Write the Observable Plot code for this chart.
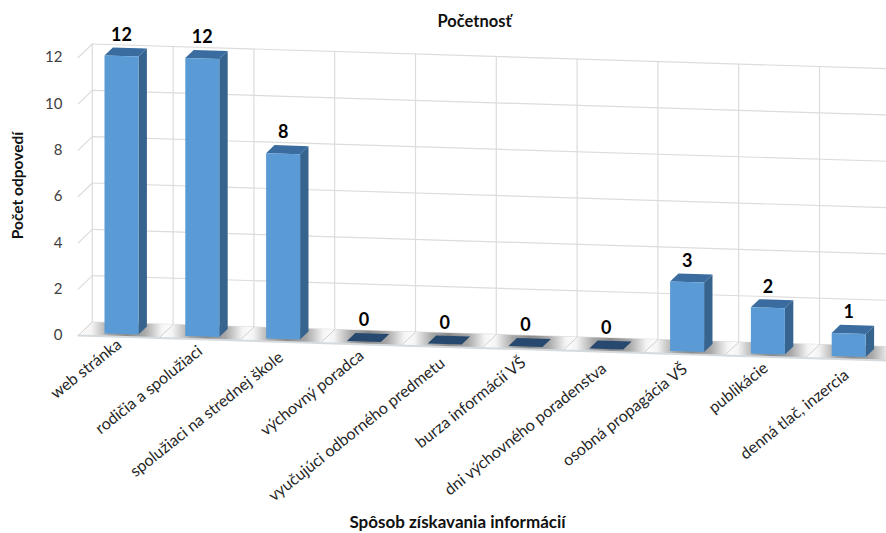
<!DOCTYPE html>
<html>
<head>
<meta charset="utf-8">
<script src="https://cdn.jsdelivr.net/npm/d3@7"></script>
<script src="https://cdn.jsdelivr.net/npm/@observablehq/plot@0.6"></script>
<style>html,body{margin:0;padding:0;background:#fff}svg{display:block}</style>
</head>
<body>
<div id="chart"></div>
<script>
const categories = ["web stránka","rodičia a spolužiaci","spolužiaci na strednej škole","výchovný poradca","vyučujúci odborného predmetu","burza informácií VŠ","dni výchovného poradenstva","osobná propagácia VŠ","publikácie","denná tlač, inzercia"];
const counts = [12,12,8,0,0,0,0,3,2,1];
const yTicks = [0,2,4,6,8,10,12];
const chartTitle = "Početnosť";
const xTitle = "Spôsob získavania informácií";
const yTitle = "Počet odpovedí";

// Perspective of the 3-D chart, in data units
const unitX = 80.8, unitY = 23.17;
const tilt = 0.031 * unitX / unitY;
const depthX = 14 / unitX, depthY = 13.5 / unitY;
const halfBar = 17 / unitX;
const pt = (u, v, d) => ({x: u + d * depthX, y: v + d * depthY - tilt * (u + 0.5)});
const rows = (polys) => polys.flatMap((p, id) => p.map((q) => ({...q, id})));
const poly = (polys, o) => Plot.line(rows(polys), {x: "x", y: "y", z: "id", ...o});
const shape = (polys, fill) => poly(polys, {fill, stroke: "none"});

const idx = d3.range(categories.length);
const nonZero = idx.filter((i) => counts[i] > 0);
const zero = idx.filter((i) => counts[i] === 0);
const nearD = 0.2, farD = 0.8;
const edges = d3.range(0, categories.length + 1).map((i) => i - 0.5);

const gridStroke = {stroke: "#dcdcdc", strokeWidth: 1.2};
const topFace = (i) => [pt(i - halfBar, counts[i], nearD), pt(i + halfBar, counts[i], nearD), pt(i + halfBar, counts[i], farD), pt(i - halfBar, counts[i], farD)];

const chartFont = "Lato, 'Open Sans', sans-serif";
const plot = Plot.plot({
  width: 886, height: 533,
  marginLeft: 65, marginRight: 0, marginTop: 0, marginBottom: 0,
  x: {domain: [-0.6584, 9.5025], range: [65, 886], axis: null},
  y: {domain: [0, 12], range: [335, 57], axis: null},
  style: {fontFamily: chartFont, background: "#fff", color: "#404040"},
  marks: [
    () => d3.create("svg:defs").html(`<linearGradient id="floorShade" x1="0" x2="1" y1="0" y2="0">
      <stop offset="0" stop-color="#ffffff"/><stop offset="0.14" stop-color="#f4f4f4"/>
      <stop offset="0.32" stop-color="#a8a8a8"/><stop offset="0.5" stop-color="#8a8a8a"/>
      <stop offset="0.7" stop-color="#a8a8a8"/><stop offset="0.88" stop-color="#f4f4f4"/>
      <stop offset="1" stop-color="#ffffff"/></linearGradient>`).node(),
    // back wall
    poly(yTicks.map((v) => [pt(-0.5, v, 1), pt(10, v, 1)]), gridStroke),
    poly(edges.map((u) => [pt(u, 0, 1), pt(u, 12, 1)]), gridStroke),
    poly(yTicks.filter((v) => v > 0).map((v) => [pt(-0.5, v, 0), pt(-0.5, v, 1)]), gridStroke),
    // floor
    shape(idx.map((i) => [pt(i - 0.5, 0, 0), pt(i + 0.5, 0, 0), pt(i + 0.5, 0, 1), pt(i - 0.5, 0, 1)]), "url(#floorShade)"),
    poly(edges.map((u) => [pt(u, 0, 0), pt(u, 0, 1)]), {stroke: "#cfcfcf", strokeWidth: 1}),
    poly([[pt(-0.5, 0, 0), pt(10, 0, 0)]], {stroke: "#d5dade", strokeWidth: 2}),
    // bars
    shape(zero.map(topFace), "#27496f"),
    shape(nonZero.map(topFace), "#3a6c9f"),
    shape(nonZero.map((i) => [pt(i + halfBar, 0, nearD), pt(i + halfBar, 0, farD), pt(i + halfBar, counts[i], farD), pt(i + halfBar, counts[i], nearD)]), "#36648f"),
    shape(nonZero.map((i) => [pt(i - halfBar, 0, nearD), pt(i + halfBar, 0, nearD), pt(i + halfBar, counts[i], nearD), pt(i - halfBar, counts[i], nearD)]), "#5b9bd5"),
    // value labels
    Plot.text(idx, {
      x: (i) => pt(i, counts[i], nearD).x,
      y: (i) => pt(i, counts[i], nearD).y,
      text: (i) => String(counts[i]),
      dy: -21, fontSize: 18, fontWeight: 700, fill: "#000"
    }),
    // category labels
    Plot.text(idx, {
      x: (i) => pt(i, 0, nearD).x,
      y: (i) => pt(i, 0, nearD).y - (6 + 0.4 * categories[i].length + 0.5 * i) / unitY,
      text: (i) => categories[i],
      rotate: -38.5, textAnchor: "end", dx: -2, dy: -2, fontSize: 16, fill: "#262626"
    }),
    Plot.axisY(yTicks, {anchor: "left", tickSize: 0, tickPadding: 3, label: null, fontSize: 15, fill: "#404040"}),
    Plot.text([chartTitle], {frameAnchor: "top-left", dx: 409, dy: 21, text: (d) => d, fontSize: 16.5, fontWeight: 700, fill: "#111", textAnchor: "middle", lineAnchor: "middle"}),
    Plot.text([xTitle], {frameAnchor: "top-left", dx: 392, dy: 522, text: (d) => d, fontSize: 17, fontWeight: 700, fill: "#111", textAnchor: "middle", lineAnchor: "middle"}),
    Plot.text([yTitle], {frameAnchor: "top-left", dx: -47, dy: 185, text: (d) => d, rotate: -90, fontSize: 15.5, fontWeight: 700, fill: "#111", textAnchor: "middle", lineAnchor: "middle"})
  ]
});
document.getElementById("chart").append(plot);
</script>
</body>
</html>
